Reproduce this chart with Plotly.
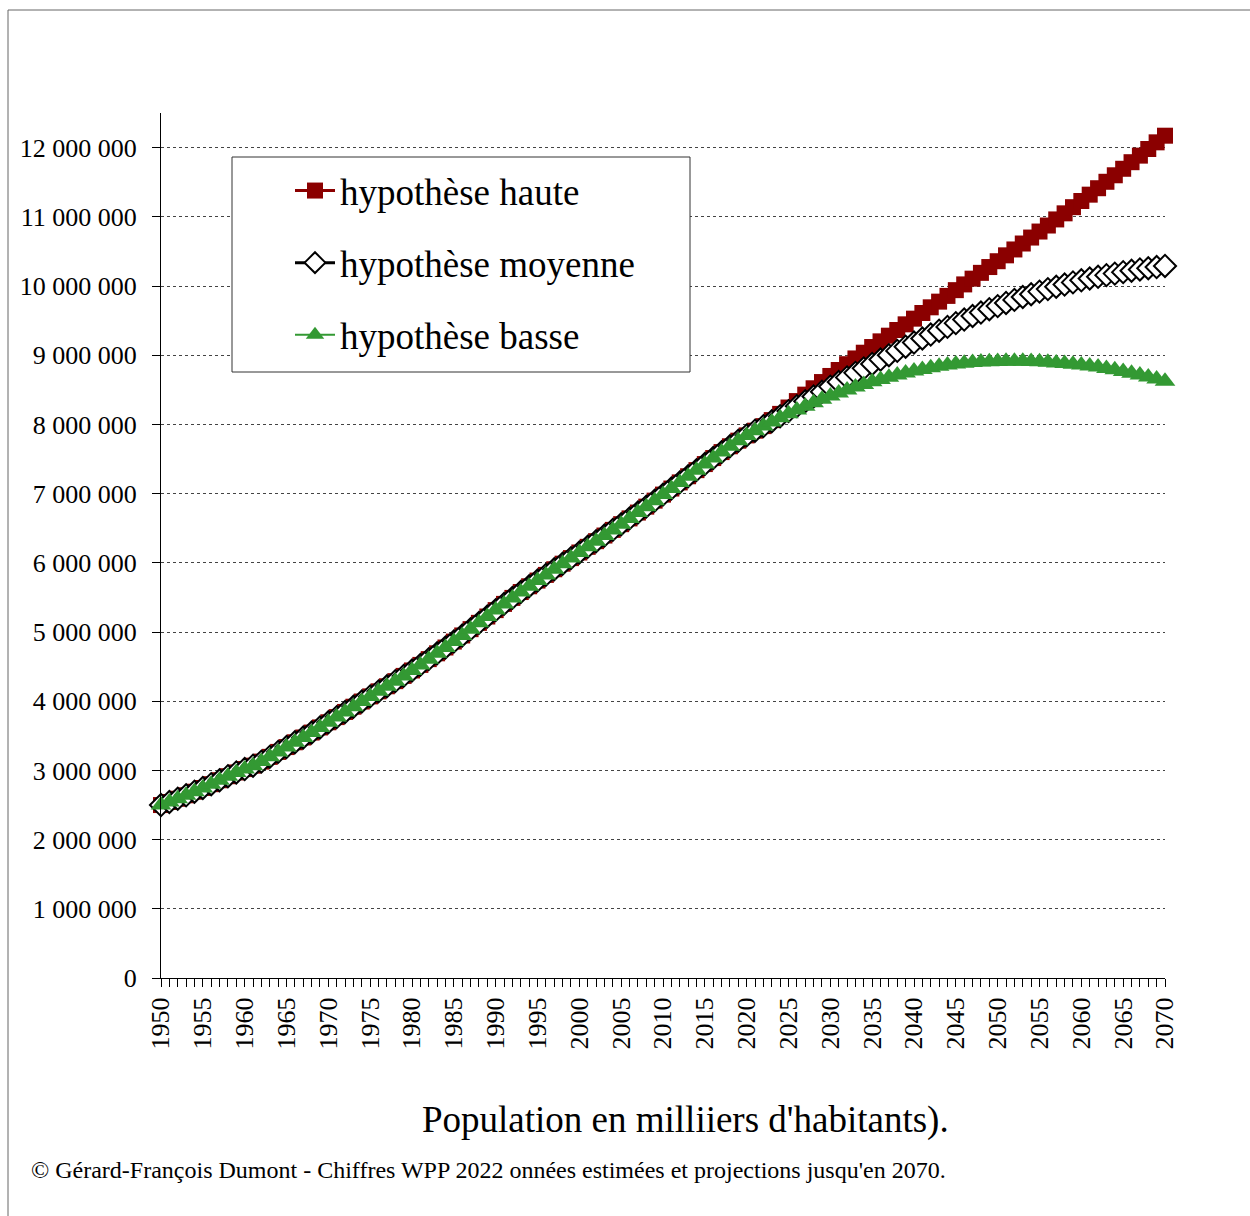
import plotly.graph_objects as go

# ---------------- data (population, thousands) ----------------
years = list(range(1950, 2071))

# WPP 2022 estimates 1950-2021 (common to all hypotheses)
estimates = [
    2499322, 2543130, 2590271, 2640279, 2691979, 2746072, 2801002, 2857866, 2916108, 2970292,
    3019233, 3068371, 3126994, 3195779, 3267212, 3337112, 3406417, 3475448, 3546811, 3620656,
    3695390, 3770164, 3844800, 3920251, 3995517, 4069437, 4142506, 4215772, 4289658, 4365644,
    4444008, 4524628, 4607985, 4691884, 4775836, 4861731, 4950063, 5040984, 5132294, 5223704,
    5316176, 5406246, 5492686, 5577433, 5660727, 5743219, 5825145, 5906481, 5987312, 6067758,
    6148899, 6230747, 6312408, 6393898, 6475751, 6558176, 6641416, 6725949, 6811597, 6898306,
    6985603, 7073125, 7161698, 7250593, 7339013, 7426598, 7513474, 7599822, 7683790, 7764951,
    7840953, 7909295,
]

# projections 2022-2070
high_proj = [
    7975105, 8062000, 8152000, 8244000, 8337000, 8430000, 8522000, 8612000, 8700000, 8786000,
    8870000, 8953000, 9036000, 9118000, 9200000, 9282000, 9364000, 9446000, 9528000, 9610000,
    9692000, 9774000, 9857000, 9940000, 10023000, 10106000, 10190000, 10274000, 10358000, 10443000,
    10528000, 10614000, 10700000, 10787000, 10874000, 10962000, 11050000, 11139000, 11228000, 11320000,
    11413000, 11506000, 11600000, 11694000, 11789000, 11884000, 11980000, 12076000, 12172000,
]

medium_proj = [
    7975105, 8045311, 8118836, 8191988, 8264070, 8334778, 8404093, 8472034, 8546141, 8613000,
    8679000, 8745000, 8810000, 8874000, 8937000, 9000000, 9062000, 9123000, 9183000, 9241000,
    9298000, 9354000, 9409000, 9463000, 9515000, 9566000, 9616000, 9665000, 9709492, 9755000,
    9799000, 9841000, 9881000, 9919000, 9955000, 9989000, 10021000, 10052000, 10082000, 10108000,
    10133000, 10157000, 10179000, 10200000, 10220000, 10239000, 10257000, 10274000, 10290000,
]

low_proj = [
    7975105, 8035000, 8095000, 8153000, 8209000, 8263000, 8314000, 8363000, 8410000, 8455000,
    8498000, 8539000, 8578000, 8615000, 8650000, 8683000, 8714000, 8743000, 8770000, 8795000,
    8818000, 8839000, 8857000, 8872000, 8885000, 8895000, 8902000, 8907000, 8910000, 8912000,
    8913000, 8912000, 8909000, 8904000, 8897000, 8889000, 8880000, 8870000, 8859000, 8845000,
    8828000, 8809000, 8788000, 8765000, 8740000, 8713000, 8685000, 8655000, 8624000,
]

series_names = ["hypothèse haute", "hypothèse moyenne", "hypothèse basse"]

y_tick_values = [0, 1000000, 2000000, 3000000, 4000000, 5000000, 6000000,
                 7000000, 8000000, 9000000, 10000000, 11000000, 12000000]
y_tick_labels = ["0", "1 000 000", "2 000 000", "3 000 000", "4 000 000", "5 000 000",
                 "6 000 000", "7 000 000", "8 000 000", "9 000 000", "10 000 000",
                 "11 000 000", "12 000 000"]

axis_title = "Population en milliiers d'habitants)."
source_text = ("© Gérard-François Dumont - Chiffres WPP 2022 onnées estimées "
               "et projections jusqu'en 2070.")

# ---------------- figure ----------------
SERIF = "Liberation Serif"
RED = "#8B0000"
GREEN = "#339933"

fig = go.Figure()

fig.add_trace(go.Scatter(
    x=years, y=estimates + high_proj,
    mode="lines+markers", name=series_names[0], legendgroup="g1",
    line=dict(color=RED, width=3),
    marker=dict(symbol="square", size=16, color=RED),
    cliponaxis=False,
))
fig.add_trace(go.Scatter(
    x=years, y=estimates + medium_proj,
    mode="lines+markers", name=series_names[1], legendgroup="g2",
    line=dict(color="black", width=3),
    marker=dict(symbol="diamond", size=17, color="white", line=dict(color="black", width=2)),
    cliponaxis=False,
))
fig.add_trace(go.Scatter(
    x=years, y=estimates + low_proj,
    mode="lines+markers", name=series_names[2], legendgroup="g3",
    line=dict(color=GREEN, width=2),
    marker=dict(symbol="triangle-up", size=18, color=GREEN),
    cliponaxis=False,
))

# plot area in pixels: x 161..1165, y 113..978
L, R, T, B = 161, 1165, 113, 978
W, H = R - L, B - T


def px(xp):
    return (xp - L) / W


def py(yp):
    return (B - yp) / H


fig.update_layout(
    width=1250, height=1216,
    margin=dict(l=L, r=1250 - R, t=T, b=1216 - B),
    paper_bgcolor="white", plot_bgcolor="white",
    font=dict(family=SERIF, color="black"),
    showlegend=True,
    legend=dict(
        x=px(290), y=py(160), xanchor="left", yanchor="top",
        bgcolor="rgba(0,0,0,0)", borderwidth=0,
        font=dict(family=SERIF, size=37, color="black"),
        traceorder="grouped", tracegroupgap=21,
        itemwidth=40,
    ),
    xaxis=dict(
        range=[1950, 2070], tickmode="linear", tick0=1950, dtick=5,
        ticks="outside", ticklen=8, tickwidth=1, tickcolor="black",
        showline=True, linecolor="black", linewidth=1,
        showgrid=False, zeroline=False, tickangle=-90,
        tickfont=dict(family=SERIF, size=26, color="black"),
        minor=dict(tick0=1950, dtick=1, ticks="outside", ticklen=8,
                   tickwidth=1, tickcolor="black", showgrid=False),
    ),
    xaxis2=dict(
        overlaying="x", anchor="y", side="bottom",
        range=[1950, 2070], tickmode="linear", tick0=1950, dtick=1,
        ticks="inside", ticklen=8, tickwidth=1, tickcolor="black",
        showticklabels=False, showgrid=False, showline=False, zeroline=False,
    ),
    yaxis=dict(
        range=[0, 12500000], tickmode="array",
        tickvals=y_tick_values, ticktext=y_tick_labels,
        ticks="outside", ticklen=8, tickwidth=1, tickcolor="black",
        showline=True, linecolor="black", linewidth=1,
        showgrid=True, gridcolor="#444444", griddash="dot", gridwidth=1,
        zeroline=False, ticklabelstandoff=10,
        tickfont=dict(family=SERIF, size=26, color="black"),
    ),
    yaxis2=dict(
        overlaying="y", anchor="x", side="left",
        range=[0, 12500000], tickmode="array", tickvals=y_tick_values,
        ticks="inside", ticklen=8, tickwidth=1, tickcolor="black",
        showticklabels=False, showgrid=False, showline=False, zeroline=False,
    ),
)

# outer frame
fig.add_shape(type="rect", xref="paper", yref="paper",
              x0=px(8), x1=px(1262), y0=py(1230), y1=py(10),
              line=dict(color="#666666", width=1), fillcolor="rgba(0,0,0,0)",
              layer="below")
# legend box
fig.add_shape(type="rect", xref="paper", yref="paper",
              x0=px(232), x1=px(690), y0=py(372), y1=py(157),
              line=dict(color="#333333", width=1), fillcolor="white",
              layer="above")

fig.add_annotation(text=axis_title, xref="paper", yref="paper",
                   x=px(685), y=py(1120), xanchor="center", yanchor="middle",
                   showarrow=False, font=dict(family=SERIF, size=37, color="black"))
fig.add_annotation(text=source_text, xref="paper", yref="paper",
                   x=px(29), y=py(1170), xanchor="left", yanchor="middle",
                   showarrow=False, font=dict(family=SERIF, size=24, color="black"))

fig.write_html("out.html")
